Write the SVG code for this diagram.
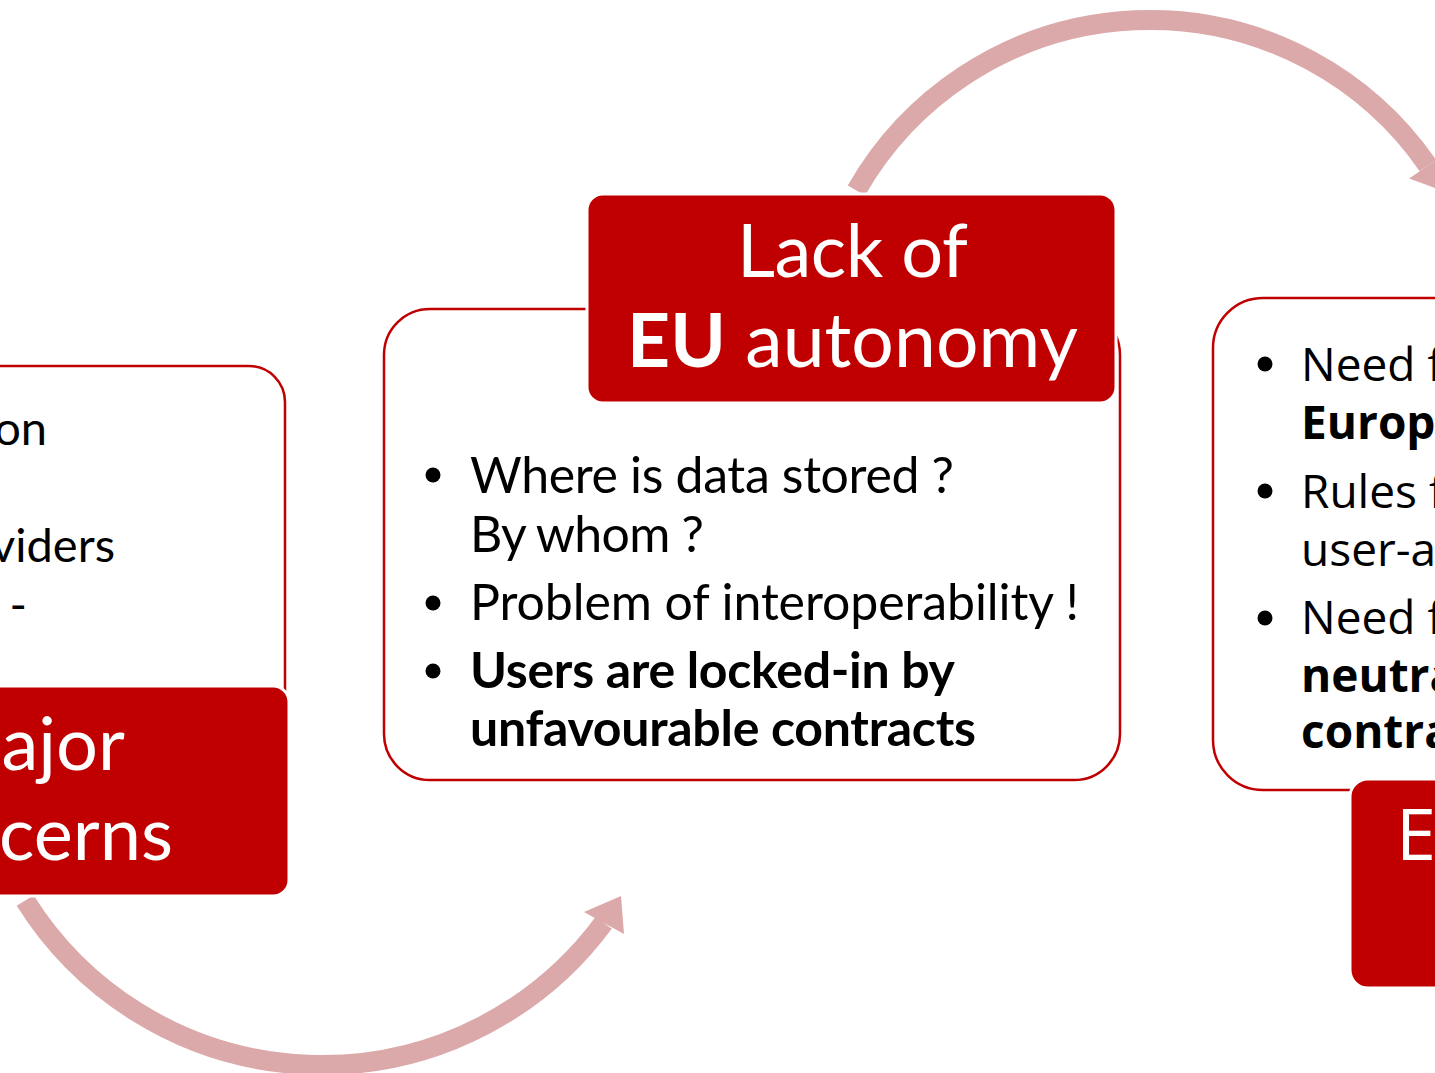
<svg xmlns="http://www.w3.org/2000/svg" width="1435" height="1073" viewBox="0 0 1435 1073">
<style>
.box{fill:#fff;stroke:#C00000;stroke-width:2.5}
.title{fill:#C00000;stroke:#fff;stroke-width:3}
.arc{fill:none;stroke:#DCA9AA;stroke-width:20}
.head{fill:#DCA9AA}
.t{font-family:Lato,"Open Sans",sans-serif;fill:#000}
.tw{font-family:Lato,"Open Sans",sans-serif;fill:#fff}
.o{font-family:"Open Sans","Noto Sans",sans-serif;fill:#000}
.ow{font-family:"Open Sans","Noto Sans",sans-serif;fill:#fff}
.b{font-weight:bold}
</style>
<rect width="1435" height="1073" fill="#fff"/>
<g id="connectors">
<path class="arc" d="M856.4,190.5 A338,338 0 0 1 1427.9,165.6"/>
<polygon class="head" points="1409.2,178.6 1446.6,152.6 1446.1,191.9"/>
<path class="arc" d="M25.2,900.5 A350,350 0 0 0 603.7,922.7"/>
<polygon class="head" points="584,912 621,896 624,934"/>
</g>
<g id="node-left">
<rect class="box" x="-60" y="366" width="345" height="440" rx="36"/>
<text class="t" font-size="47" text-anchor="end" x="47" y="445">on</text>
<text class="t" font-size="47" text-anchor="end" x="115" y="562">viders</text>
<text class="t" font-size="47" text-anchor="end" x="27" y="621">-</text>
<rect class="title" x="-40" y="686" width="329" height="210" rx="16"/>
<text class="tw" font-size="74" text-anchor="end" x="125" y="770">ajor</text>
<text class="tw" font-size="74" text-anchor="end" x="173" y="860">cerns</text>
</g>
<g id="node-middle">
<rect class="box" x="384" y="309" width="736" height="471" rx="46"/>
<rect class="title" x="587" y="194" width="529" height="209" rx="16"/>
<text class="tw" font-size="74" x="737" y="277" textLength="231">Lack of</text>
<text class="tw" font-size="75" x="627" y="367" textLength="451"><tspan class="b">EU</tspan> autonomy</text>
<circle cx="433" cy="475" r="7.5"/>
<circle cx="433" cy="603" r="7.5"/>
<circle cx="433" cy="671" r="7.5"/>
<text class="t" font-size="50" x="470" y="493" textLength="484">Where is data stored ?</text>
<text class="t" font-size="50" x="470" y="552" textLength="234">By whom ?</text>
<text class="t" font-size="50" x="470" y="620" textLength="609">Problem of interoperability !</text>
<text class="t b" font-size="50" x="470" y="688" textLength="485">Users are locked-in by</text>
<text class="t b" font-size="50" x="470" y="746" textLength="506">unfavourable contracts</text>
</g>
<g id="node-right">
<rect class="box" x="1213" y="298" width="300" height="492" rx="50"/>
<rect class="title" x="1350" y="779" width="200" height="209" rx="18"/>
<text class="ow" font-size="72" x="1396" y="860">E</text>
<circle cx="1265" cy="364" r="7.5"/>
<circle cx="1265" cy="491" r="7.5"/>
<circle cx="1265" cy="618" r="7.5"/>
<text class="o" font-size="46" x="1301" y="381">Need f</text>
<text class="o b" font-size="46" x="1301" y="439">Europe</text>
<text class="o" font-size="46" x="1301" y="508">Rules f</text>
<text class="o" font-size="46" x="1301" y="566">user-a</text>
<text class="o" font-size="46" x="1301" y="634">Need f</text>
<text class="o b" font-size="46" x="1301" y="692">neutra</text>
<text class="o b" font-size="46" x="1301" y="748">contra</text>
</g>
</svg>
